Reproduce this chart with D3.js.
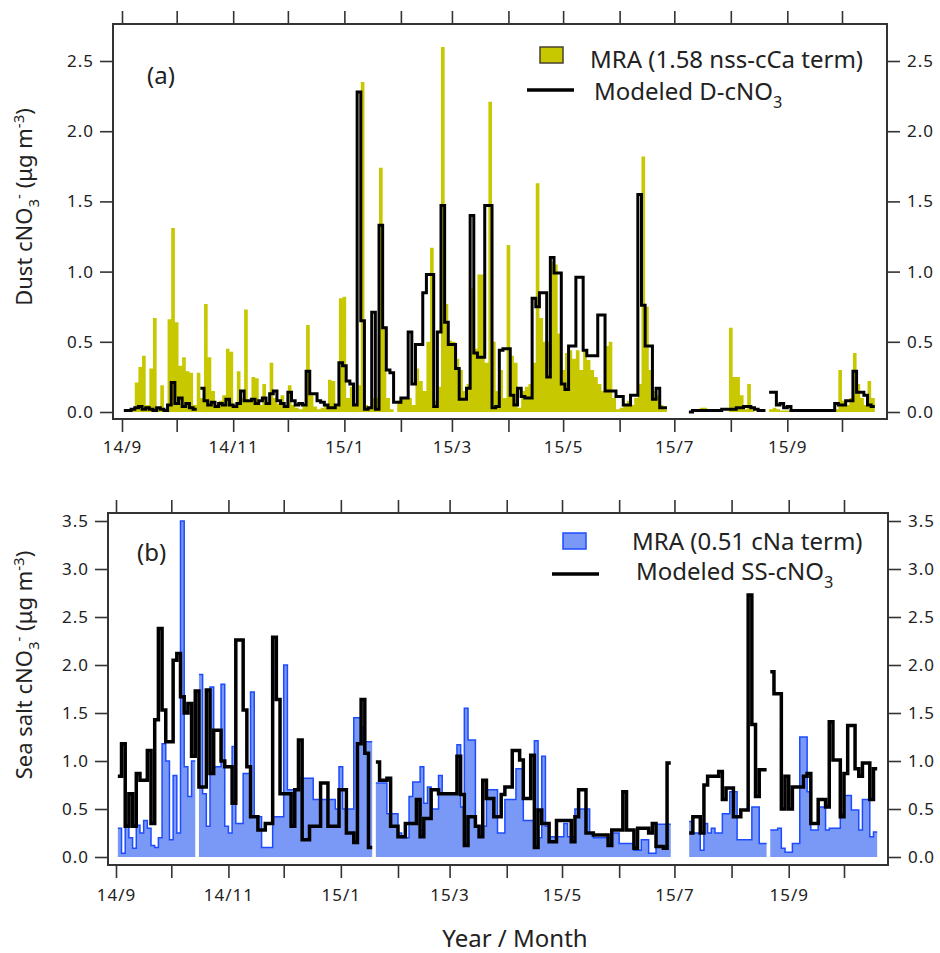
<!DOCTYPE html>
<html>
<head>
<meta charset="utf-8">
<script src="https://cdn.jsdelivr.net/npm/d3@7"></script>
<style>
  body { margin: 0; background: #fff; }
  svg text { font-family: "Noto Sans", sans-serif; fill: #222; }
</style>
</head>
<body>
<svg id="chart" width="940" height="953"></svg>
<script>
// Two-day sampling bins, the first one starting 2 Sep 2014.
const START = new Date(2014, 8, 2);
const BIN_DAYS = 2;

// (a) dust: MRA estimate (1.58 nss-cCa term) and modeled D-cNO3, µg m-3
const dustMRA = [
  0, 0, 0.02, 0.21, 0.32, 0.40, 0.05, 0.31, 0.67, 0.03,
  0.19, 0.02, 0.66, 1.31, 0.64, 0.33, 0.39, 0.29, 0.28, 0.05,
  0.28, 0.10, 0.77, 0.39, 0.15, 0.05, 0.08, 0.12, 0.45, 0.43,
  0.05, 0.29, 0.10, 0.73, 0.08, 0.25, 0.24, 0.05, 0.20, 0.05,
  0.35, 0.10, 0.06, 0.12, 0.04, 0.19, 0.05, 0.03, 0.02, 0.04,
  0.62, 0.12, 0.04, 0.02, 0.03, 0.05, 0.23, 0.22, 0.04, 0.81,
  0.82, 0.10, 0.18, 0.05, 0.19, 2.35, 0.05, 0.03, 0.10, 0.10,
  1.74, 0.60, 0.10, 0.02, 0, 0.08, 0.10, 0.10, 0.10, 0.05,
  0.31, 0.22, 0.15, 0.50, 1.17, 0.08, 0.18, 2.60, 0.77, 0.51,
  0.50, 0.38, 0.30, 0.15, 0.20, 0.88, 0.45, 0.98, 0.98, 0.35,
  2.21, 0.50, 0.15, 0.30, 0.10, 1.19, 0.40, 0.35, 0.03, 0.15,
  0.18, 0.20, 0.35, 1.63, 0.67, 0.50, 0.50, 1.07, 1.05, 0.56,
  0.30, 0.42, 0.44, 0.38, 0.44, 0.30, 0.44, 0.37, 0.30, 0.25,
  0.20, 0.15, 0.47, 0.50, 0.10, 0.02, 0.03, 0.05, 0.08, 0.05,
  0.10, 0.20, 1.82, 0.75, 0.30, 0.15, 0.12, 0.05, 0.02, 0,
  0, 0, 0, 0, 0, 0, 0, 0, 0.03, 0.03,
  0, 0, 0, 0, 0, 0, 0.60, 0.25, 0.25, 0.12,
  0.02, 0.20, 0.02, 0, 0, 0, 0, 0.02, 0.03, 0.02,
  0.01, 0.01, 0.01, 0, 0, 0, 0, 0, 0, 0,
  0, 0, 0, 0, 0, 0.02, 0.30, 0.08, 0.05, 0.10,
  0.42, 0.20, 0.10, 0.05, 0.22, 0.10
];
const dustModel = [
  0.01, 0.01, 0.02, 0.03, 0.04, 0.02, 0.03, 0.02, 0.01, 0.03,
  0.02, 0.01, 0.05, 0.21, 0.06, 0.10, 0.04, 0.06, 0.03, 0.02,
  null, 0.17, 0.08, 0.05, 0.07, 0.04, 0.06, 0.05, 0.09, 0.05,
  0.04, 0.06, 0.15, 0.08, 0.08, 0.09, 0.06, 0.08, 0.10, 0.06,
  0.13, 0.15, 0.08, 0.06, 0.04, 0.14, 0.08, 0.05, 0.06, 0.05,
  0.29, 0.13, 0.13, 0.08, 0.07, 0.05, 0.03, 0.03, 0.05, 0.35,
  0.33, 0.22, 0.20, 0.05, 2.28, 0.65, 0.02, 0.03, 0.71, 0.02,
  1.33, 0.60, 0.30, 0.28, 0.07, 0.07, 0.10, 0.10, 0.57, 0.20,
  0.48, 0.48, 0.85, 0.98, 0.98, 0.04, 0.57, 1.47, 0.64, 0.48,
  0.48, 0.31, 0.09, 0.09, 0.17, 1.40, 0.42, 0.39, 0.39, 1.47,
  1.47, 0.03, 0.04, 0.44, 0.45, 0.45, 0.12, 0.05, 0.17, 0.11,
  0.10, 0.10, 0.81, 0.75, 0.85, 0.85, 0.25, 1.10, 0.99, 0.99,
  0.20, 0.16, 0.47, 0.47, 0.96, 0.96, 0.44, 0.40, 0.40, 0.40,
  0.69, 0.69, 0.15, 0.15, 0.15, 0.11, 0.11, 0.05, 0.05, 0.12,
  0.12, 1.55, 0.76, 0.47, 0.47, 0.09, 0.17, 0.03, 0.03, null,
  null, null, null, null, null, 0.00, 0.01, 0.01, 0.01, 0.01,
  0.01, 0.01, 0.01, 0.01, 0.02, 0.02, 0.02, 0.02, 0.03, 0.03,
  0.04, 0.04, 0.03, 0.02, 0.01, 0.01, null, 0.14, 0.14, 0.05,
  0.06, 0.03, 0.04, 0.01, 0.01, 0.01, 0.01, 0.01, 0.01, 0.01,
  0.01, 0.01, 0.01, 0.01, 0.01, 0.06, 0.05, 0.05, 0.08, 0.08,
  0.29, 0.14, 0.14, 0.12, 0.05, 0.04
];

// (b) sea salt: MRA estimate (0.51 cNa term) and modeled SS-cNO3, µg m-3
const seaMRA = [
  0.30, 0.04, 0.33, 0.20, 0.09, 0.33, 0.25, 0.38, 0.30, 0.12,
  0.10, 0.20, 1.18, 1.00, 0.18, 0.85, 0.25, 3.50, 0.94, 0.63,
  1.00, null, 1.90, 0.66, 0.32, 1.77, 0.94, 0.94, 1.80, 0.32,
  0.25, 1.15, 0.35, 0.35, 0.87, 0.87, 1.72, 0.42, 0.42, 0.10,
  0.10, 0.10, 0.42, 0.42, 0.42, 2.00, 0.70, 0.70, 0.70, 0.82,
  0.82, 0.82, 0.82, 0.60, 0.60, 0.60, 0.60, 0.60, 0.60, 0.50,
  0.94, 0.50, 0.50, 0.50, 1.45, 1.45, 1.35, 1.20, 1.20, null,
  0.77, 0.77, 0.77, 0.45, 0.45, 0.45, 0.25, 0.20, 0.20, 0.63,
  0.78, 0.78, 0.94, 0.56, 0.73, 0.50, 0.50, 0.85, 0.66, 0.66,
  0.66, 0.66, 1.17, 0.52, 1.55, 1.22, 1.22, 0.32, 0.32, 0.32,
  0.70, 0.70, 0.70, 0.25, 0.25, 0.60, 0.60, 0.60, 0.92, 0.92,
  0.38, 0.38, 0.38, 1.21, 0.20, 1.05, 0.32, 0.21, 0.21, 0.21,
  0.21, 0.35, 0.21, 0.21, 0.50, 0.50, 0.50, 0.50, 0.25, 0.20,
  0.20, 0.20, 0.20, 0.20, 0.25, 0.25, 0.14, 0.14, 0.14, 0.14,
  0.07, 0.07, 0.18, 0.18, 0.04, 0.04, 0.34, 0.34, 0.34, 0.34,
  null, null, null, null, null, 0.37, 0.25, 0.25, 0.07, 0.35,
  0.25, 0.30, 0.25, 0.25, 0.45, 0.45, 0.68, 0.68, 0.18, 0.18,
  0.18, 0.18, 0.52, 0.52, 0.14, 0.14, null, 0.28, 0.28, 0.30,
  0.09, 0.05, 0.05, 0.14, 0.14, 1.25, 1.25, 0.68, 0.28, 0.28,
  0.52, 0.52, 0.28, 0.30, 0.30, 0.30, 0.45, 0.64, 0.64, 0.49,
  0.49, 0.28, 0.60, 0.60, 0.21, 0.26
];
const seaModel = [
  0.84, 1.18, 0.32, 0.66, 0.32, 0.87, 0.80, 0.80, 1.11, 0.35,
  1.43, 2.38, 1.53, 1.20, 1.20, 2.05, 2.12, 1.67, 1.50, 1.60,
  1.05, 1.73, 0.73, 0.73, 1.74, 0.87, 1.32, 1.32, 1.00, 0.94,
  0.94, 0.56, 2.26, 2.26, 1.53, 0.94, 0.42, 0.42, 0.28, 0.28,
  0.35, 0.35, 2.29, 1.64, 0.66, 0.66, 0.66, 0.32, 0.70, 1.22,
  0.18, 0.18, 0.32, 0.32, 0.32, 0.77, 0.77, 0.32, 0.32, 0.32,
  0.70, 0.70, 0.25, 0.25, 0.15, 1.18, 1.64, 1.08, 0.10, null,
  0.99, 0.80, 0.80, 0.82, 0.32, 0.32, 0.21, 0.21, 0.35, 0.35,
  0.35, 0.60, 0.21, 0.40, 0.40, 0.70, 0.70, 0.66, 0.66, 0.66,
  0.66, 0.66, 1.05, 0.65, 0.12, 0.42, 0.42, 0.32, 0.21, 0.80,
  0.61, 0.61, 0.42, 0.42, 0.65, 0.73, 0.73, 1.11, 1.11, 1.01,
  0.61, 0.61, 1.06, 0.10, 0.49, 0.35, 0.35, 0.16, 0.16, 0.38,
  0.38, 0.38, 0.38, 0.16, 0.42, 0.70, 0.70, 0.25, 0.25, 0.23,
  0.23, 0.23, 0.23, 0.12, 0.28, 0.28, 0.28, 0.68, 0.28, 0.28,
  0.09, 0.30, 0.30, 0.30, 0.25, 0.35, 0.11, 0.11, 0.09, 0.98,
  null, null, null, null, null, 0.25, 0.42, 0.42, 0.25, 0.75,
  0.84, 0.84, 0.84, 0.89, 0.60, 0.72, 0.72, 0.42, 0.42, 0.49,
  0.49, 2.73, 1.38, 0.63, 0.91, 0.91, null, 1.93, 1.70, 1.70,
  0.50, 0.84, 0.50, 0.73, 0.73, 0.73, 0.84, 0.87, 0.35, 0.35,
  0.60, 0.60, 0.52, 1.41, 1.01, 1.01, 0.42, 0.87, 1.37, 1.37,
  0.92, 0.84, 0.98, 0.98, 0.60, 0.92
];

// Axis ticks and labels
const monthTicks = d3.timeMonth.range(new Date(2014, 8, 1), new Date(2015, 9, 2));
const monthLabels = ["14/9", "14/11", "15/1", "15/3", "15/5", "15/7", "15/9"];
const yTicksDust = [0, 0.5, 1.0, 1.5, 2.0, 2.5];
const yTicksSea = [0, 0.5, 1.0, 1.5, 2.0, 2.5, 3.0, 3.5];

const svg = d3.select('#chart');

// Each bin becomes a flat step from its start to its end; nulls break the path.
function stepPoints(values) {
  const pts = [];
  values.forEach((v, i) => {
    pts.push({ t: d3.timeDay.offset(START, i * BIN_DAYS), v });
    pts.push({ t: d3.timeDay.offset(START, (i + 1) * BIN_DAYS), v });
  });
  return pts;
}

// Text with sub/superscript pieces, built from tspans.
function richText(sel, parts, size) {
  let shift = 0;
  parts.forEach(p => {
    const target = p.sub ? size * 0.32 : p.sup ? -size * 0.38 : 0;
    sel.append('tspan')
      .attr('dy', target - shift)
      .attr('font-size', (p.sub || p.sup) ? size * 0.68 : size)
      .text(p.t);
    shift = target;
  });
}

function drawPanel(cfg) {
  const f = cfg.frame;
  const x = d3.scaleTime()
    .domain([new Date(2014, 8, 1), new Date(2015, 9, 1)])
    .range(cfg.xRange);
  const y = d3.scaleLinear().domain(cfg.yDomain).range(cfg.yRange);
  const g = svg.append('g');

  const area = d3.area()
    .defined(d => d.v != null)
    .x(d => x(d.t)).y0(y(0)).y1(d => y(d.v));
  const line = d3.line()
    .defined(d => d.v != null)
    .x(d => x(d.t)).y(d => y(d.v));

  const mra = stepPoints(cfg.mra);
  g.append('path').attr('d', area(mra)).attr('fill', cfg.fill);
  if (cfg.outline) {
    g.append('path').attr('d', line(mra))
      .attr('fill', 'none').attr('stroke', cfg.outline).attr('stroke-width', 1.5);
  }
  g.append('path').attr('d', line(stepPoints(cfg.model)))
    .attr('fill', 'none').attr('stroke', '#000')
    .attr('stroke-width', cfg.lineWidth).attr('stroke-linejoin', 'miter');

  // frame
  g.append('rect')
    .attr('x', f.left).attr('y', f.top)
    .attr('width', f.right - f.left).attr('height', f.bottom - f.top)
    .attr('fill', 'none').attr('stroke', '#333').attr('stroke-width', 2);

  const styleAxis = sel => {
    sel.select('.domain').remove();
    sel.selectAll('line').attr('stroke', '#333').attr('stroke-width', 1.6);
    sel.selectAll('text').attr('font-family', '"Noto Sans", sans-serif')
      .attr('font-size', 17).attr('letter-spacing', 1).attr('fill', '#222');
  };

  g.append('g').attr('transform', `translate(${f.left},0)`)
    .call(d3.axisLeft(y).tickValues(cfg.yTicks).tickSize(13).tickPadding(6)
      .tickFormat(d3.format('.1f')))
    .call(styleAxis);
  g.append('g').attr('transform', `translate(${f.right},0)`)
    .call(d3.axisRight(y).tickValues(cfg.yTicks).tickSize(13).tickPadding(7)
      .tickFormat(d3.format('.1f')))
    .call(styleAxis);
  g.append('g').attr('transform', `translate(0,${f.bottom})`)
    .call(d3.axisBottom(x).tickValues(monthTicks).tickSize(13).tickPadding(cfg.xPad)
      .tickFormat((d, i) => i % 2 === 0 ? monthLabels[i / 2] : ''))
    .call(styleAxis);
  g.append('g').attr('transform', `translate(0,${f.top})`)
    .call(d3.axisTop(x).tickValues(monthTicks).tickSize(13).tickFormat(''))
    .call(styleAxis);

  // y title
  const yt = g.append('text')
    .attr('transform', `translate(32,${cfg.titleY}) rotate(-90)`)
    .attr('text-anchor', 'middle');
  richText(yt, cfg.yTitle, 22);

  // panel tag
  g.append('text').attr('x', cfg.tag.x).attr('y', cfg.tag.y)
    .attr('font-size', 24).text(cfg.tag.text);

  // legend
  const L = cfg.legend;
  g.append('rect').attr('x', L.sw[0]).attr('y', L.sw[1]).attr('width', 23).attr('height', 16)
    .attr('fill', cfg.fill).attr('stroke', L.swStroke).attr('stroke-width', 1.5);
  g.append('text').attr('x', L.t1[0]).attr('y', L.t1[1]).attr('font-size', 24).text(L.label1);
  g.append('line').attr('x1', L.ln[0]).attr('x2', L.ln[1]).attr('y1', L.ln[2]).attr('y2', L.ln[2])
    .attr('stroke', '#000').attr('stroke-width', 3.5);
  const t2 = g.append('text').attr('x', L.t2[0]).attr('y', L.t2[1]);
  richText(t2, L.label2, 24);
}

drawPanel({
  frame: { left: 113, right: 887, top: 24, bottom: 419 },
  xRange: [122, 842], yDomain: [0, 2.5], yRange: [412, 61],
  yTicks: yTicksDust, xPad: 9,
  mra: dustMRA, model: dustModel,
  fill: '#c8c800', outline: null, lineWidth: 3,
  titleY: 207,
  yTitle: [{ t: 'Dust cNO' }, { t: '3', sub: true }, { t: '-', sup: true },
           { t: ' (μg m' }, { t: '-3', sup: true }, { t: ')' }],
  tag: { x: 147, y: 84, text: '(a)' },
  legend: {
    sw: [540, 47], swStroke: '#4a4030', t1: [590, 68], label1: 'MRA (1.58 nss-cCa term)',
    ln: [527, 574, 90], t2: [594, 100],
    label2: [{ t: 'Modeled D-cNO' }, { t: '3', sub: true }]
  }
});

drawPanel({
  frame: { left: 108, right: 888, top: 513, bottom: 865 },
  xRange: [116, 844], yDomain: [0, 3.5], yRange: [857, 521],
  yTicks: yTicksSea, xPad: 11,
  mra: seaMRA, model: seaModel,
  fill: '#7a98f5', outline: '#1d4cff', lineWidth: 3.5,
  titleY: 665,
  yTitle: [{ t: 'Sea salt cNO' }, { t: '3', sub: true }, { t: '-', sup: true },
           { t: ' (μg m' }, { t: '-3', sup: true }, { t: ')' }],
  tag: { x: 137, y: 561, text: '(b)' },
  legend: {
    sw: [563, 533], swStroke: '#1d4cff', t1: [632, 550], label1: 'MRA (0.51 cNa term)',
    ln: [552, 599, 574], t2: [636, 580],
    label2: [{ t: 'Modeled SS-cNO' }, { t: '3', sub: true }]
  }
});

svg.append('text')
  .attr('x', 515).attr('y', 947)
  .attr('text-anchor', 'middle')
  .attr('font-size', 24)
  .text('Year / Month');
</script>
</body>
</html>
